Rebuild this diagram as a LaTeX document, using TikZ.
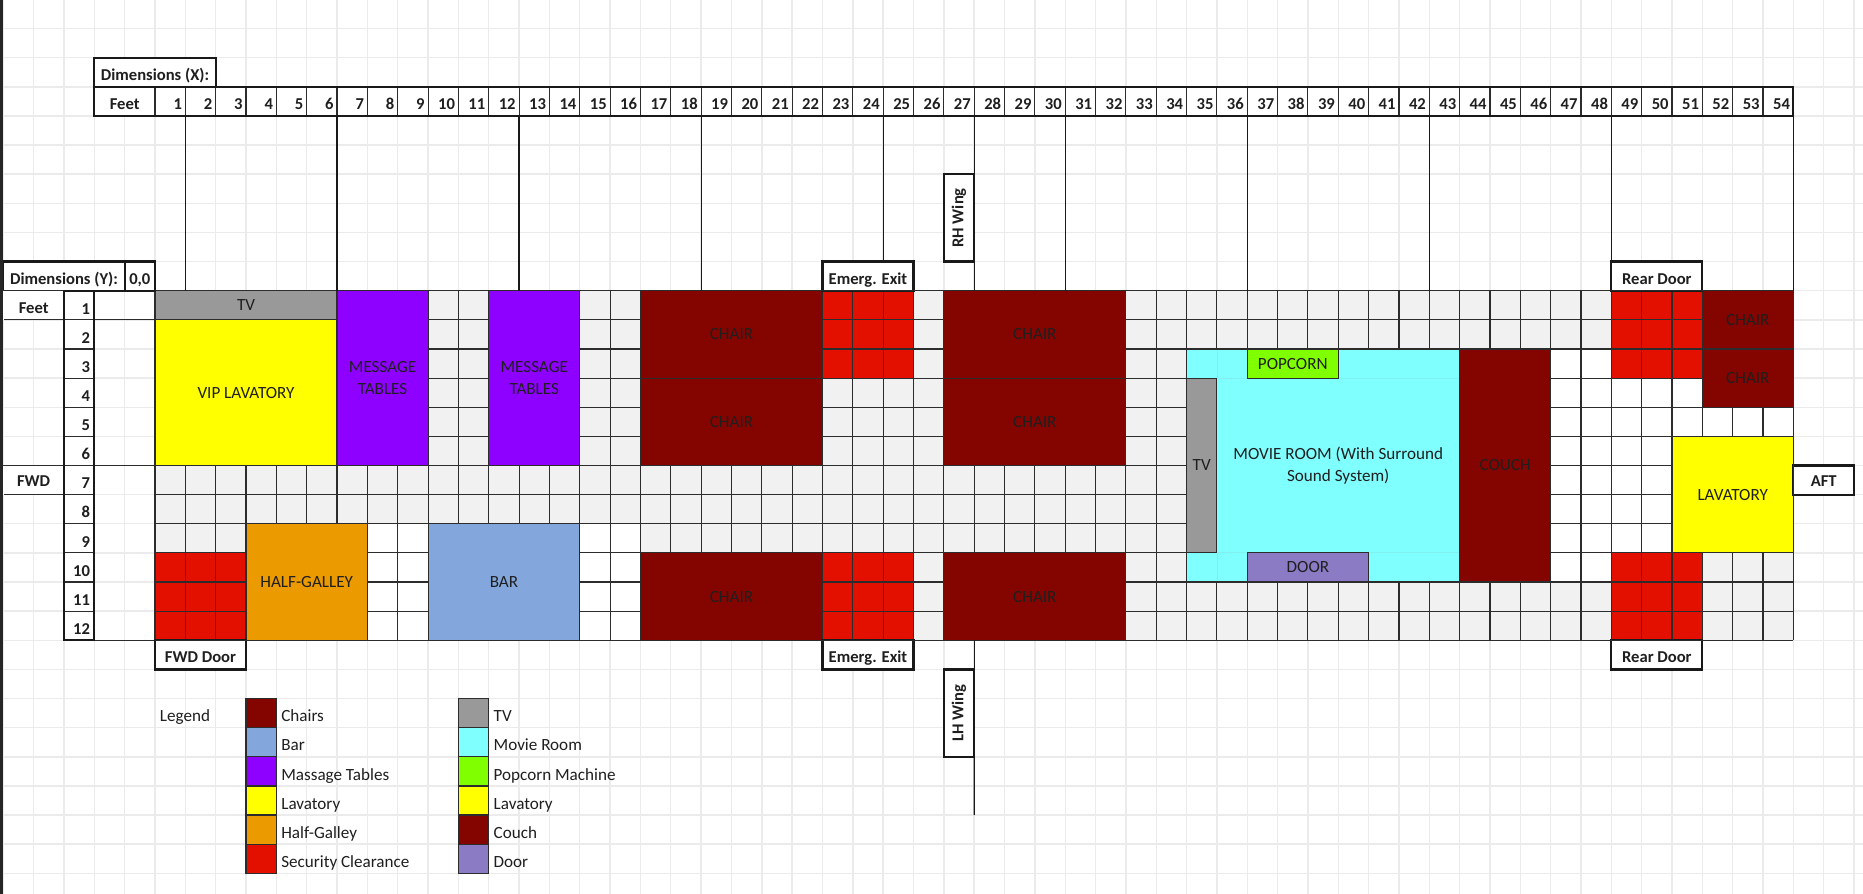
\documentclass[tikz,border=0pt]{standalone}
\usepackage{fontspec}
\usepackage{graphicx}
\setmainfont{Carlito}
\definecolor{gridc}{HTML}{EBEBEB}
\definecolor{linec}{HTML}{2C2C2C}
\definecolor{txtc}{HTML}{1F1F1F}
\definecolor{cellg}{HTML}{F1F1F1}
\definecolor{chairc}{HTML}{840400}
\definecolor{barc}{HTML}{83A7DD}
\definecolor{massc}{HTML}{8E00FF}
\definecolor{lavc}{HTML}{FFFF00}
\definecolor{galc}{HTML}{EB9B00}
\definecolor{redc}{HTML}{E31000}
\definecolor{tvc}{HTML}{999999}
\definecolor{movc}{HTML}{80FFFF}
\definecolor{popc}{HTML}{80FF00}
\definecolor{doorc}{HTML}{8B7BC5}
\tikzset{
  cellline/.style={draw=linec,line width=0.55pt},
  room/.style={draw=linec,line width=0.55pt,text=txtc,font=\fontsize{8.55}{11}\selectfont},
  tag/.style={draw=black!90,line width=1.1pt,fill=white,text=txtc,font=\bfseries\fontsize{8.3}{11}\selectfont},
  thin tag/.style={draw=linec,line width=0.55pt,fill=white,text=txtc,font=\bfseries\fontsize{8.3}{11}\selectfont},
  numtext/.style={anchor=base east,text=txtc,inner sep=0pt,font=\bfseries\fontsize{8.3}{10}\selectfont},
  tagtext/.style={anchor=base,text=txtc,inner sep=0pt,font=\bfseries\fontsize{8.3}{10}\selectfont},
  legendtext/.style={anchor=base west,text=txtc,inner sep=0pt,font=\fontsize{8.55}{10}\selectfont},
  leader/.style={draw=black!90,line width=0.6pt},
  swatch/.style={draw=linec,line width=0.6pt},
}
\newcommand{\bx}[7]{%
  \pgfmathsetmacro{\bw}{(#4-#2)*15.17}%
  \pgfmathsetmacro{\bh}{(#5-#3)*14.565}%
  \node[#6,minimum width=\bw pt,minimum height=\bh pt,inner sep=0pt,outer sep=0pt,align=center] (#1) at ({(#2+#4)/2},{(#3+#5)/2}) {#7};%
}
\newcommand{\cells}[5]{%
  \fill[#5] (#1,#2) rectangle (#3,#4);
  \foreach \a in {#1,...,#3} \draw[cellline] (\a,#2) -- (\a,#4);
  \foreach \b in {#2,...,#4} \draw[cellline] (#1,\b) -- (#3,\b);
}
\begin{document}
\begin{tikzpicture}[x=15.17pt,y=-14.565pt]
\useasboundingbox (-5.109,-9.98) rectangle (56.295,20.71);
\fill[white] (-5.109,-9.98) rectangle (56.295,20.71);
% sheet grid
\foreach \a in {-5,...,56} \draw[gridc,line width=0.7pt] (\a,-9.98) -- (\a,20.71);
\foreach \b in {-9,...,20} \draw[gridc,line width=0.7pt] (-5.109,\b) -- (56.295,\b);
% cabin cells
\cells{0}{6}{34}{8}{cellg}
\cells{0}{8}{3}{9}{cellg}
\cells{16}{8}{34}{9}{cellg}
\cells{9}{0}{11}{6}{cellg}
\cells{14}{0}{16}{6}{cellg}
\cells{22}{3}{25}{6}{cellg}
\cells{25}{0}{26}{6}{cellg}
\cells{32}{0}{34}{6}{cellg}
\cells{25}{9}{26}{12}{cellg}
\cells{32}{9}{34}{12}{cellg}
\cells{34}{0}{48}{2}{cellg}
\cells{34}{10}{48}{12}{cellg}
\cells{51}{9}{54}{12}{cellg}
\cells{7}{8}{9}{12}{white}
\cells{14}{8}{16}{12}{white}
\cells{46}{2}{48}{10}{white}
\cells{48}{3}{51}{5}{white}
\cells{51}{4}{54}{5}{white}
\cells{48}{5}{50}{9}{white}
\cells{0}{9}{3}{12}{redc}
\cells{22}{0}{25}{3}{redc}
\cells{22}{9}{25}{12}{redc}
\cells{48}{0}{51}{3}{redc}
\cells{48}{9}{51}{12}{redc}
% outline left of the cabin
\draw[cellline] (-2,1) -- (0,1);
\draw[cellline] (-2,6) -- (0,6);
\draw[cellline] (-2,12) -- (0,12);
% rooms
\bx{tv1}{0}{0}{6}{1}{room,fill=tvc}{TV}
\bx{vip}{0}{1}{6}{6}{room,fill=lavc}{\raisebox{-1pt}{VIP LAVATORY}}
\bx{mt1}{6}{0}{9}{6}{room,fill=massc}{MESSAGE\\TABLES}
\bx{mt2}{11}{0}{14}{6}{room,fill=massc}{MESSAGE\\TABLES}
\bx{ch1}{16}{0}{22}{3}{room,fill=chairc}{CHAIR}
\bx{ch2}{16}{3}{22}{6}{room,fill=chairc}{CHAIR}
\bx{ch3}{26}{0}{32}{3}{room,fill=chairc}{CHAIR}
\bx{ch4}{26}{3}{32}{6}{room,fill=chairc}{CHAIR}
\bx{ch5}{16}{9}{22}{12}{room,fill=chairc}{CHAIR}
\bx{ch6}{26}{9}{32}{12}{room,fill=chairc}{CHAIR}
\bx{ch7}{51}{0}{54}{2}{room,fill=chairc}{CHAIR}
\bx{ch8}{51}{2}{54}{4}{room,fill=chairc}{CHAIR}
\bx{gal}{3}{8}{7}{12}{room,fill=galc}{HALF-GALLEY}
\bx{bar}{9}{8}{14}{12}{room,fill=barc}{BAR}
\bx{mov}{34}{2}{43}{10}{room,draw=none,fill=movc}{}
\draw[movc!88!gray,line width=0.4pt] (34,3) -- (43,3) (34,9) -- (43,9) (35,2) -- (35,3) (35,9) -- (35,10);
\draw[cellline] (34,2) -- (43,2) (34,10) -- (43,10);
\node[text=txtc,font=\fontsize{8.55}{10.8}\selectfont,align=center,inner sep=0pt] (movt) at (39,6) {MOVIE ROOM (With Surround\\Sound System)};
\bx{tv2}{34}{3}{35}{9}{room,fill=tvc}{TV}
\bx{pop}{36}{2}{39}{3}{room,fill=popc}{POPCORN}
\bx{door}{36}{9}{40}{10}{room,fill=doorc}{DOOR}
\bx{couch}{43}{2}{46}{10}{room,fill=chairc}{COUCH}
\bx{lav}{50}{5}{54}{9}{room,fill=lavc}{LAVATORY}
% header
\bx{dimx}{-2}{-8}{2}{-7}{tag}{}
\node[tagtext] (dimxt) at (0,-7.23) {Dimensions (X):};
\bx{feetx}{-2}{-7}{0}{-6}{tag}{}
\node[tagtext] (feetxt) at (-1,-6.22) {Feet};
\foreach \n in {1,...,54}{
  \pgfmathsetmacro{\lft}{\n-1}
  \bx{hx\n}{\lft}{-7}{\n}{-6}{thin tag}{}
  \node[numtext] (hl\n) at (\n-0.1,-6.21) {\n};
}
\draw[draw=black!90,line width=1.1pt] (feetx.north west) rectangle (hx54.south east);
% left index
\bx{dimy}{-5}{-1}{-1}{0}{tag}{}
\node[tagtext] (dimyt) at (-3,-0.23) {Dimensions (Y):};
\bx{orig}{-1}{-1}{0}{0}{tag}{}
\node[tagtext] (origt) at (-0.5,-0.23) {0,0};
\bx{feety}{-5}{0}{-3}{1}{thin tag}{}
\node[tagtext] (feetyt) at (-4,0.77) {Feet};
\bx{fwd}{-5}{6}{-3}{7}{thin tag}{}
\node[tagtext] (fwdt) at (-4,6.72) {FWD};
\draw[white,line width=1pt] (-5,0) -- (-5,1) (-5,6) -- (-5,7);
\foreach \n in {1,...,12}{
  \pgfmathsetmacro{\tp}{\n-1}
  \bx{hy\n}{-3}{\tp}{-2}{\n}{thin tag}{}
  \node[numtext] (yl\n) at (-2.13,\n-0.2) {\n};
}
\draw[draw=black!90,line width=1.1pt] (hy1.north west) rectangle (hy12.south east);
% doors and wings
\bx{ee1}{22}{-1}{25}{0}{tag}{}
\node[tagtext] (ee1t) at (23.5,-0.2) {Emerg. Exit};
\bx{rd1}{48}{-1}{51}{0}{tag}{}
\node[tagtext] (rd1t) at (49.5,-0.2) {Rear Door};
\bx{fd}{0}{12}{3}{13}{tag}{}
\node[tagtext] (fdt) at (1.5,12.75) {FWD Door};
\bx{ee2}{22}{12}{25}{13}{tag}{}
\node[tagtext] (ee2t) at (23.5,12.75) {Emerg. Exit};
\bx{rd2}{48}{12}{51}{13}{tag}{}
\node[tagtext] (rd2t) at (49.5,12.75) {Rear Door};
\bx{aft}{54}{6}{56}{7}{tag}{}
\node[tagtext] (aftt) at (55,6.72) {AFT};
\draw[cellline] (0,0) -- (54,0) (54,0) -- (54,12) (0,12) -- (54,12);
\bx{rh}{26}{-4}{27}{-1}{tag}{\rotatebox{90}{RH Wing}}
\bx{lh}{26}{13}{27}{16}{tag}{\rotatebox{90}{LH Wing}}
% leaders
\coordinate (cabintop) at (0,0);
\coordinate (cabinbot) at (0,12);
\coordinate (lhend) at (27,18);
\foreach \n in {1,6,12,18,30,36,42,54}
  \draw[leader] (hx\n.south east) -- (hx\n.south east |- cabintop);
\draw[leader] (hx24.south east) -- (hx24.south east |- ee1.north);
\draw[leader] (hx48.south east) -- (hx48.south east |- rd1.north);
\draw[leader] (hx27.south east) -- (rh.north east);
\draw[leader] (rh.south east) -- (rh.south east |- cabintop);
\draw[leader] (lh.north east |- cabinbot) -- (lh.north east);
\draw[leader] (lh.south east) -- (lhend);
% legend
\node[legendtext] (legt) at (0.15,14.8) {Legend};
\foreach \nm/\col/\lab [count=\k from 0] in {a/chairc/Chairs,b/barc/Bar,c/massc/Massage Tables,d/lavc/Lavatory,e/galc/Half-Galley,f/redc/Security Clearance}{
  \pgfmathsetmacro{\tp}{14+\k}\pgfmathsetmacro{\bt}{15+\k}
  \bx{sw\nm}{3}{\tp}{4}{\bt}{swatch,fill=\col}{}
  \node[legendtext] (lb\nm) at (4.15,\tp+0.8) {\lab};
}
\foreach \nm/\col/\lab [count=\k from 0] in {g/tvc/TV,h/movc/Movie Room,i/popc/Popcorn Machine,j/lavc/Lavatory,k/chairc/Couch,l/doorc/Door}{
  \pgfmathsetmacro{\tp}{14+\k}\pgfmathsetmacro{\bt}{15+\k}
  \bx{sw\nm}{10}{\tp}{11}{\bt}{swatch,fill=\col}{}
  \node[legendtext] (lb\nm) at (11.15,\tp+0.8) {\lab};
}
% edge of the sheet window
\fill[black!85] (-5.109,-9.98) rectangle (-5,20.71);
\end{tikzpicture}
\end{document}
